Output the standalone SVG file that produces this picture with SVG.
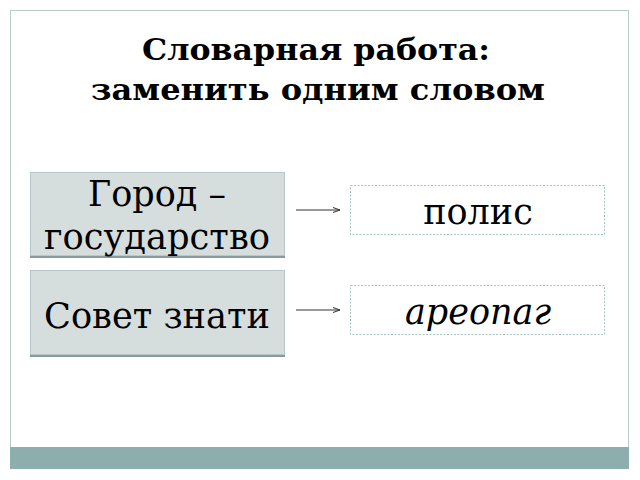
<svg xmlns="http://www.w3.org/2000/svg" width="640" height="480" viewBox="0 0 640 480">
<style>
text{font-family:"DejaVu Serif","Liberation Serif",serif;fill:#000;text-anchor:middle}
.l{fill:#d5dddd;stroke:#b5c9c9;stroke-width:1}
.sh{fill:#8a9a9a}
.r{fill:#fff;stroke:#a9c2c2;stroke-width:1;stroke-dasharray:2 1.5}
.t{font-size:35px}
</style>
<defs><marker id="a" markerWidth="8" markerHeight="6" refX="7" refY="3" orient="auto" markerUnits="userSpaceOnUse"><path d="M0,0.5 L7,3 L0,5.5" fill="none" stroke="#333"/></marker></defs>
<rect x="0" y="0" width="640" height="480" fill="#fff"/>
<rect x="10.5" y="10.5" width="618" height="458" fill="#fff" stroke="#b8cccc"/>
<rect x="10" y="447" width="619" height="22" fill="#8eadad"/>
<g id="title"><text x="316" y="60" font-size="30" font-weight="bold" textLength="348" lengthAdjust="spacingAndGlyphs">Словарная работа:</text><text x="318" y="100" font-size="30" font-weight="bold" textLength="454" lengthAdjust="spacingAndGlyphs">заменить одним словом</text></g>
<g id="n1"><rect class="sh" x="30" y="255" width="255" height="3"/><rect class="l" x="30.5" y="172.5" width="254" height="83"/><text class="t" x="157" y="206">Город –</text><text class="t" x="157" y="249" textLength="226" lengthAdjust="spacingAndGlyphs">государство</text></g>
<g id="n2"><rect class="sh" x="30" y="354" width="255" height="3"/><rect class="l" x="30.5" y="270.5" width="254" height="84"/><text class="t" x="157" y="328" textLength="226" lengthAdjust="spacingAndGlyphs">Совет знати</text></g>
<g id="n3"><rect class="r" x="350.5" y="185.5" width="254" height="49"/><text class="t" x="478" y="224">полис</text></g>
<g id="n4"><rect class="r" x="350.5" y="285.5" width="254" height="49"/><text class="t" x="478" y="324" font-style="italic">ареопаг</text></g>
<g id="connectors" stroke="#333" stroke-width="1"><line x1="296" y1="210" x2="340" y2="210" marker-end="url(#a)"/><line x1="296" y1="310" x2="340" y2="310" marker-end="url(#a)"/></g>
</svg>
